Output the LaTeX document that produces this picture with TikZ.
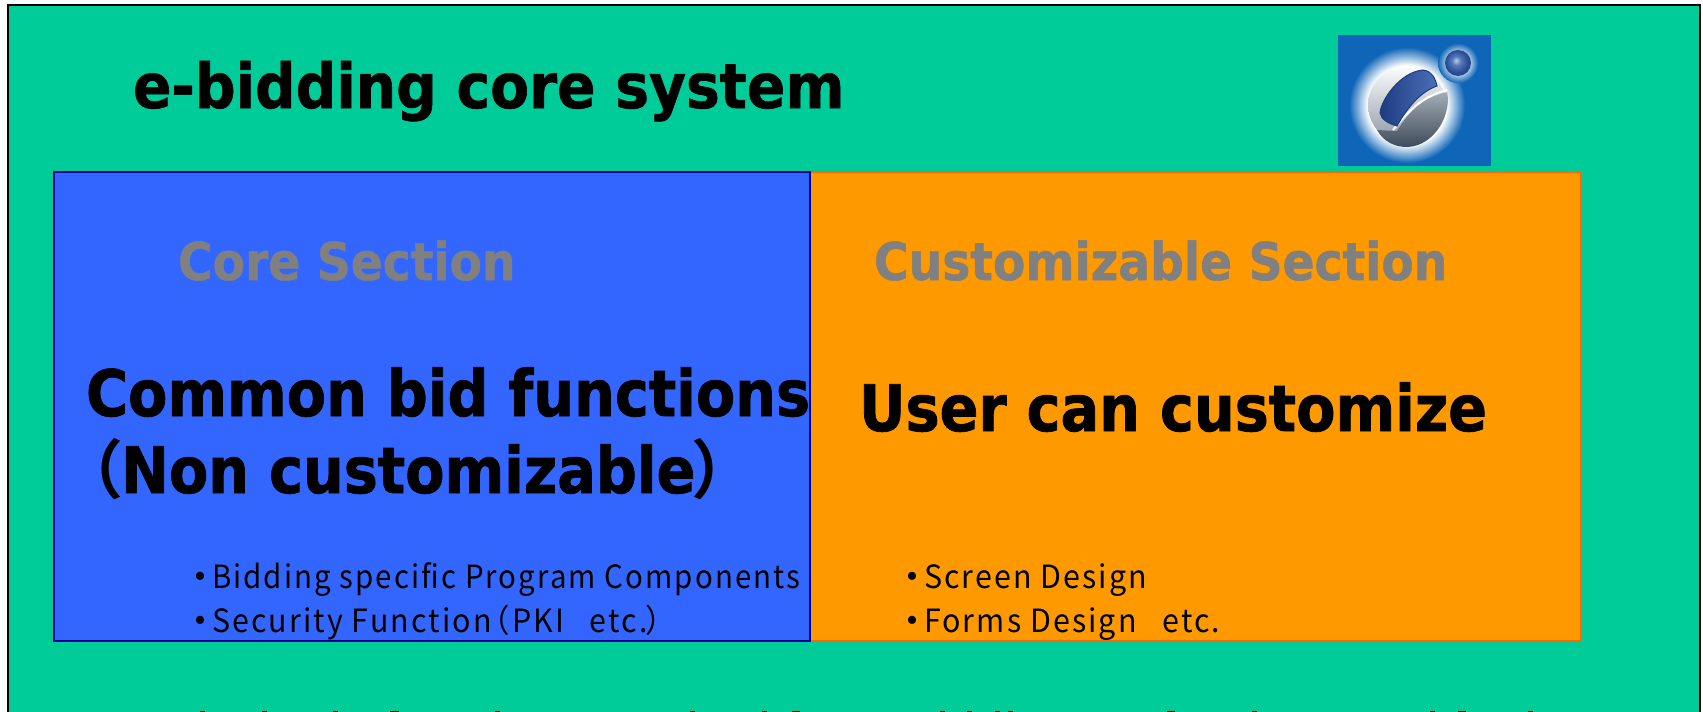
\documentclass[tikz,border=0pt]{standalone}
\usepackage{fontspec}
\setmainfont{DejaVu Sans}
\newfontfamily\hbtitle[FakeStretch=0.915,FakeBold=1]{DejaVu Sans Bold}
\newfontfamily\hbsec[FakeStretch=0.908,FakeBold=1]{DejaVu Sans Bold}
\newfontfamily\hbbig[FakeStretch=0.895,FakeBold=1.2]{DejaVu Sans Bold}
\newfontfamily\gk[FakeStretch=0.95,LetterSpace=6.5]{Noto Sans CJK JP}
\newfontfamily\gkn[FakeStretch=0.92,LetterSpace=6.5]{Noto Sans CJK JP}
\newfontfamily\gb{Noto Sans CJK JP Bold}
\definecolor{bggreen}{HTML}{00CC99}
\definecolor{coreblue}{HTML}{3366FF}
\definecolor{coreedge}{HTML}{000099}
\definecolor{custorange}{HTML}{FF9900}
\definecolor{custedge}{HTML}{FF6600}
\definecolor{secgray}{HTML}{808080}
\definecolor{logoblue}{HTML}{0F66B8}
\definecolor{sphtop}{HTML}{E6EBF0}
\definecolor{sphbot}{HTML}{8A96A4}
\definecolor{lowtop}{HTML}{A3ADB6}
\definecolor{lowbot}{HTML}{3F4A5A}
\definecolor{swa}{HTML}{1E3C80}
\definecolor{swb}{HTML}{4A70B8}
\definecolor{balla}{HTML}{B5CBEB}
\definecolor{ballb}{HTML}{5577BB}
\definecolor{ballc}{HTML}{2A4A90}
\pgfdeclareradialshading{logoglow}{\pgfpointorigin}{color(0bp)=(white); color(17bp)=(white); color(25bp)=(logoblue); color(50bp)=(logoblue)}
\pgfdeclareradialshading{ballglow}{\pgfpointorigin}{color(0bp)=(white!65!logoblue); color(15bp)=(white!65!logoblue); color(25bp)=(logoblue); color(50bp)=(logoblue)}
\pgfdeclareradialshading{logoball}{\pgfpoint{-4bp}{5bp}}{color(0bp)=(balla); color(9bp)=(ballb); color(22bp)=(ballc); color(50bp)=(ballc)}
\newcommand{\dotb}{\llap{{\gb ・}\kern-4pt}}
\tikzset{
  lbl/.style={anchor=base west,inner sep=0pt,outer sep=0pt,text=black},
  titletxt/.style={lbl,font=\hbtitle\fontsize{62}{62}\selectfont},
  sectxt/.style={lbl,font=\hbsec\fontsize{52}{52}\selectfont,text=secgray},
  bigtxt/.style={lbl,font=\hbbig\fontsize{64}{64}\selectfont},
  smalltxt/.style={lbl,font=\gk\fontsize{32}{32}\selectfont},
  smallntxt/.style={lbl,font=\gkn\fontsize{32}{32}\selectfont},
  panelcore/.style={draw=coreedge,line width=2pt,fill=coreblue,inner sep=0pt,outer sep=0pt,anchor=north west},
  panelcust/.style={draw=custedge,line width=2pt,fill=custorange,inner sep=0pt,outer sep=0pt,anchor=north west},
  tick/.style={fill=black}
}
\begin{document}
\begin{tikzpicture}[x=1pt,y=-1pt]
\useasboundingbox (0,0) rectangle (1703,712);
\clip (0,0) rectangle (1703,712);
\fill[white] (0,0) rectangle (1703,712);
% frame
\draw[black,line width=2pt,fill=bggreen] (8,5) rectangle (1700,730);
% panels
\node[panelcust,minimum width=771pt,minimum height=469pt] (cust) at (810,172) {};
\node[panelcore,minimum width=756pt,minimum height=469pt] (core) at (54,172) {};
% logo
\fill[logoblue] (1338,35) rectangle (1491,166);
\shade[shading=logoglow] (1407,105) circle (58);
\shade[top color=white!90!sphtop,bottom color=sphbot] (1407,105) circle (39);
\shade[top color=lowtop,bottom color=lowbot]
  (1397,131) .. controls (1407,115) and (1420,98) .. (1447,92)
  .. controls (1452,112) and (1436,146) .. (1407,147)
  .. controls (1394,147) and (1383,141) .. (1377,130) -- cycle;
\draw[white,line width=2pt] (1393,130) .. controls (1407,113) and (1420,97) .. (1447,90);
\shade[left color=swa,right color=swb,draw=swa,line width=1pt]
  (1397,126) .. controls (1390,124) and (1381,120) .. (1380,113)
  .. controls (1381,100) and (1400,72) .. (1423,70)
  .. controls (1432,71) and (1435,78) .. (1437,86)
  .. controls (1420,92) and (1407,108) .. cycle;
\shade[shading=ballglow] (1458,63) circle (20);
\shade[shading=logoball] (1458,63) circle (13);
% text
\node[titletxt] (title) at (133,108) {e-bidding core system};
\node[sectxt] (coresec) at (178,280) {Core Section};
\node[sectxt] (custsec) at (874,280) {Customizable Section};
\node[bigtxt] (common) at (86,416) {Common bid functions};
\node[bigtxt] (noncust) at (121,493) {\llap{\gb （\kern-2pt}Non customizable\rlap{\gb \kern-4pt）}};
\node[bigtxt] (user) at (859,431) {User can customize};
\node[smallntxt] (b1) at (212,588) {\dotb Bidding specific Program Components};
\node[smalltxt] (b2) at (212,632) {\dotb Security Function\kern-12pt（PKI\kern26pt etc.\kern-2pt）};
\node[smalltxt] (b3) at (924,588) {\dotb Screen Design};
\node[smalltxt] (b4) at (924,632) {\dotb Forms Design\kern26pt etc.};
% tops of the cut-off line of text
\foreach \px/\pw in {200/5,262/5,333/5,390/9,495/5,690/5,762/5,792/8,940/5,967/5,995/5,1008/5,1167/8,1252/5,1430/5,1458/8,1528/5}
  \fill[tick] (\px,710.7) rectangle ++(\pw,2);
\end{tikzpicture}
\end{document}
